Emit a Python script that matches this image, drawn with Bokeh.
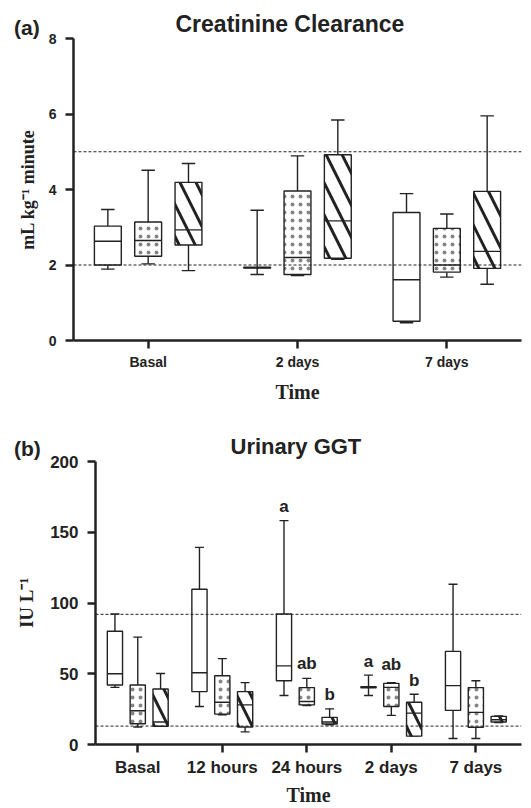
import numpy as np
from bokeh.plotting import figure
from bokeh.models import Range1d, FixedTicker, Span, Div
from bokeh.core.properties import value
from bokeh.embed import file_html
from bokeh.resources import INLINE

# ---------------- Data: (a) Creatinine Clearance ----------------
cc_categories = ["Basal", "2 days", "7 days"]
cc_open_low = [1.89, 1.75, 0.47]
cc_open_q1 = [2.00, 1.92, 0.51]
cc_open_med = [2.63, 1.93, 1.61]
cc_open_q3 = [3.03, 1.94, 3.39]
cc_open_high = [3.47, 3.45, 3.89]

cc_dot_low = [2.03, 1.72, 1.68]
cc_dot_q1 = [2.23, 1.75, 1.81]
cc_dot_med = [2.65, 2.20, 2.00]
cc_dot_q3 = [3.14, 3.96, 2.97]
cc_dot_high = [4.51, 4.89, 3.35]

cc_hat_low = [1.85, 2.15, 1.49]
cc_hat_q1 = [2.53, 2.18, 1.91]
cc_hat_med = [2.93, 3.17, 2.36]
cc_hat_q3 = [4.19, 4.92, 3.95]
cc_hat_high = [4.69, 5.84, 5.95]

cc_ref = [2, 5]
cc_yticks = [0, 2, 4, 6, 8]

# ---------------- Data: (b) Urinary GGT ----------------
ggt_categories = ["Basal", "12 hours", "24 hours", "2 days", "7 days"]
ggt_open_low = [40.4, 26.9, 34.6, 34.6, 4.2]
ggt_open_q1 = [42.0, 37.4, 45.1, 40.0, 24.1]
ggt_open_med = [50.0, 50.7, 55.6, 40.4, 41.6]
ggt_open_q3 = [80.0, 109.7, 92.2, 40.8, 65.8]
ggt_open_high = [92.2, 139.3, 158.2, 49.0, 113.2]

ggt_dot_low = [12.4, 21.0, 27.6, 20.6, 4.2]
ggt_dot_q1 = [14.7, 21.5, 28.0, 26.9, 12.2]
ggt_dot_med = [23.8, 29.9, 30.4, 40.4, 22.7]
ggt_dot_q3 = [42.0, 48.6, 40.2, 43.2, 40.2]
ggt_dot_high = [75.9, 60.7, 46.7, 43.7, 45.1]

ggt_hat_low = [12.9, 8.9, 14.0, 5.9, 15.6]
ggt_hat_q1 = [12.9, 12.4, 14.5, 5.9, 15.9]
ggt_hat_med = [15.9, 28.0, 15.9, 22.2, 17.5]
ggt_hat_q3 = [39.2, 37.4, 19.2, 29.9, 19.9]
ggt_hat_high = [50.2, 43.7, 25.2, 35.5, 20.2]

ggt_ref = [13, 92]
ggt_yticks = [0, 50, 100, 150, 200]

sig_text = ["a", "ab", "b", "a", "ab", "b"]
sig_cat = [3, 3, 3, 4, 4, 4]
sig_grp = [0, 1, 2, 0, 1, 2]
sig_y = [168.5, 57.2, 35.5, 58.8, 56.5, 45.5]

SANS = "Liberation Sans"
SERIF = "Liberation Serif"
INK = "#222222"
OFFSETS = [-0.27, 0.0, 0.27]
BOXW = 0.18


def draw_group(p, n, gi, low, q1, med, q3, high, hatch, hscale, hweight, halpha, cap):
    x = np.arange(1, n + 1) + OFFSETS[gi]
    low, q1, med, q3, high = map(np.asarray, (low, q1, med, q3, high))
    p.segment(x, q3, x, high, line_color=INK, line_width=1.4)
    p.segment(x, low, x, q1, line_color=INK, line_width=1.4)
    p.segment(x - cap, high, x + cap, high, line_color=INK, line_width=1.4)
    p.segment(x - cap, low, x + cap, low, line_color=INK, line_width=1.4)
    kw = {}
    if hatch:
        kw = dict(hatch_pattern=hatch, hatch_scale=hscale, hatch_weight=hweight,
                  hatch_color=INK, hatch_alpha=halpha)
    p.quad(left=x - BOXW / 2, right=x + BOXW / 2, bottom=q1, top=q3,
           fill_color="white", line_color=INK, line_width=1.4, **kw)
    p.segment(x - BOXW / 2, med, x + BOXW / 2, med, line_color=INK, line_width=1.4)


def style(p, cats, yticks, tick_size, lab_size):
    p.outline_line_color = None
    p.xgrid.visible = False
    p.ygrid.visible = False
    for ax in (p.xaxis[0], p.yaxis[0]):
        ax.axis_line_width = 2.5
        ax.major_tick_line_width = 2.5
        ax.major_tick_out = 8
        ax.major_tick_in = 0
        ax.minor_tick_line_color = None
        ax.major_label_text_font = SANS
        ax.major_label_text_font_style = "bold"
        ax.major_label_text_font_size = tick_size
        ax.major_label_text_color = INK
        ax.axis_label_text_font = SERIF
        ax.axis_label_text_font_style = "bold"
        ax.axis_label_text_font_size = lab_size
        ax.axis_label_text_color = INK
        ax.axis_line_color = INK
        ax.major_tick_line_color = INK
    p.xaxis.ticker = FixedTicker(ticks=list(range(1, len(cats) + 1)))
    p.xaxis.major_label_overrides = {i + 1: c for i, c in enumerate(cats)}
    p.yaxis.ticker = FixedTicker(ticks=yticks)
    p.xaxis.major_label_standoff = 5
    p.yaxis.major_label_standoff = 9
    p.title.text_font = SANS
    p.title.text_font_style = "bold"
    p.title.align = "left"
    p.title.text_color = INK


def panel_label(text, left, top):
    html = (f'<span style="font-family: \'{SANS}\'; font-size: 21px; font-weight: bold; '
            f'color: {INK}; line-height: 1;">{text}</span>')
    return Div(text=html, styles={"position": "absolute", "left": f"{left}px",
                                  "top": f"{top}px", "margin": "0"})


# ---------------- Figure (a) ----------------
p1 = figure(width=523, height=405, x_range=Range1d(0.5, 3.5), y_range=Range1d(0, 8),
            output_backend="svg", toolbar_location=None,
            min_border_left=73, min_border_right=2, min_border_top=38, min_border_bottom=61,
            title="Creatinine Clearance", x_axis_label="Time",
            y_axis_label="mL kg\u207b\u00b9 minute")
style(p1, cc_categories, cc_yticks, "14px", "20px")
p1.yaxis.axis_label_text_font_size = "18px"
p1.title.text_font_size = "23px"
p1.title.standoff = 4
p1.title.offset = 102
p1.yaxis.axis_label_standoff = 8
p1.xaxis.axis_label_standoff = 8
for v in cc_ref:
    p1.add_layout(Span(location=v, dimension="width", line_color=INK,
                       line_width=1, line_dash="3 2"))
n1 = len(cc_categories)
draw_group(p1, n1, 0, cc_open_low, cc_open_q1, cc_open_med, cc_open_q3, cc_open_high, None, 0, 0, 1, 0.045)
draw_group(p1, n1, 1, cc_dot_low, cc_dot_q1, cc_dot_med, cc_dot_q3, cc_dot_high, ".", 8, 0.3, 0.55, 0.045)
draw_group(p1, n1, 2, cc_hat_low, cc_hat_q1, cc_hat_med, cc_hat_q3, cc_hat_high, "\\", 32, 3.0, 1, 0.045)

# ---------------- Figure (b) ----------------
p2 = figure(width=523, height=403, x_range=Range1d(0.5, 5.54), y_range=Range1d(0, 200),
            output_backend="svg", toolbar_location=None,
            min_border_left=95, min_border_right=2, min_border_top=56, min_border_bottom=61,
            title="Urinary GGT", x_axis_label="Time", y_axis_label="IU L\u207b\u00b9")
style(p2, ggt_categories, ggt_yticks, "17px", "20px")
p2.yaxis.axis_label_text_font_size = "19px"
p2.title.text_font_size = "22px"
p2.title.standoff = 5
p2.title.offset = 135
p2.yaxis.axis_label_standoff = 10
p2.xaxis.axis_label_standoff = 4
for v in ggt_ref:
    p2.add_layout(Span(location=v, dimension="width", line_color=INK,
                       line_width=1, line_dash="3 2"))
n2 = len(ggt_categories)
draw_group(p2, n2, 0, ggt_open_low, ggt_open_q1, ggt_open_med, ggt_open_q3, ggt_open_high, None, 0, 0, 1, 0.053)
draw_group(p2, n2, 1, ggt_dot_low, ggt_dot_q1, ggt_dot_med, ggt_dot_q3, ggt_dot_high, ".", 8, 0.3, 0.55, 0.053)
draw_group(p2, n2, 2, ggt_hat_low, ggt_hat_q1, ggt_hat_med, ggt_hat_q3, ggt_hat_high, "\\", 28, 3.0, 1, 0.053)
sx = [c + OFFSETS[g] for c, g in zip(sig_cat, sig_grp)]
p2.text(x=sx, y=sig_y, text=sig_text, text_font=value(SANS), text_font_style="bold",
        text_font_size="17px", text_align="center", text_baseline="middle", text_color=INK)

div_a = panel_label("(a)", 14, 17)
div_b = panel_label("(b)", 14, 438)

open("out.html", "w").write(file_html([p1, p2, div_a, div_b], INLINE))
